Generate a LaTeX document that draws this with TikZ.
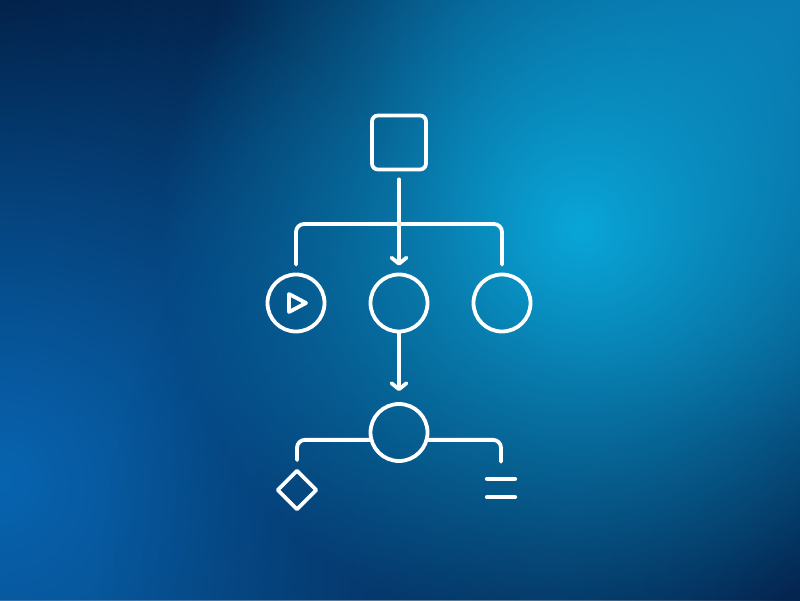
\documentclass[tikz,border=0pt]{standalone}
\usepackage{tikz}
\usetikzlibrary{arrows.meta, shapes.geometric, fadings}

\definecolor{bgmid}{HTML}{084680}
\definecolor{deepnavy}{HTML}{021D42}
\definecolor{glowcyan}{HTML}{0AA6D8}
\definecolor{leftblue}{HTML}{0864B0}
\definecolor{cornerdark}{HTML}{042550}
\definecolor{rightblue}{HTML}{0A70A8}

\tikzfading[name=glow, inner color=transparent!0, outer color=transparent!100]

\begin{document}
\begin{tikzpicture}[x=1pt, y=1pt,
    wire/.style={draw=white, line width=3.8pt, line cap=round, line join=round},
    box/.style={wire, rectangle, rounded corners=6pt, minimum size=54pt, inner sep=0pt},
    ring/.style={wire, circle, minimum size=57pt, inner sep=0pt},
    tip/.style={-{Straight Barb[length=6pt, width=15pt, round]}}]

    \useasboundingbox (0,0) rectangle (800,600);
    \begin{scope}
        \clip (0,0) rectangle (800,600);
        \fill[bgmid] (0,0) rectangle (800,600);
        \fill[deepnavy, path fading=glow] (0,600) circle (900);
        \fill[leftblue, path fading=glow] (0,120) circle (520);
        \fill[cornerdark, path fading=glow] (800,0) circle (700);
        \fill[rightblue, path fading=glow] (800,600) circle (440);
        \fill[glowcyan, path fading=glow] (580,372) circle (420);
    \end{scope}

    \node [box] (top) at (399, 457.5) {};
    \node [ring] (play) at (296, 297) {};
    \node [ring] (mid) at (399, 297) {};
    \node [ring] (rgt) at (502, 297) {};
    \node [ring] (low) at (399, 167.5) {};
    \node [wire, diamond, inner sep=0pt, minimum width=40pt, minimum height=40pt] (dia) at (297, 110) {};
    \node [inner sep=0pt, minimum width=28pt, minimum height=18pt] (menu) at (501, 112) {};
    \coordinate (bar) at (399, 376);

    \draw [wire] ([shift={(-7,9)}]play.center) -- ([shift={(10,0)}]play.center)
        -- ([shift={(-7,-9)}]play.center) -- cycle;
    \draw [wire] (menu.north west) -- (menu.north east);
    \draw [wire] (menu.south west) -- (menu.south east);

    \draw [wire, tip] ([yshift=-8pt]top.south) -- ([yshift=7pt]mid.north);
    \draw [wire, rounded corners=8pt] ([yshift=8pt]play.north) |- (bar) -| ([yshift=8pt]rgt.north);
    \draw [wire, tip] (mid.south) -- ([yshift=11pt]low.north);
    \draw [wire, rounded corners=8pt] (low.194) -| ([yshift=8pt]dia.north);
    \draw [wire, rounded corners=8pt] (low.-14) -| ([yshift=17pt]menu.north);
\end{tikzpicture}
\end{document}
